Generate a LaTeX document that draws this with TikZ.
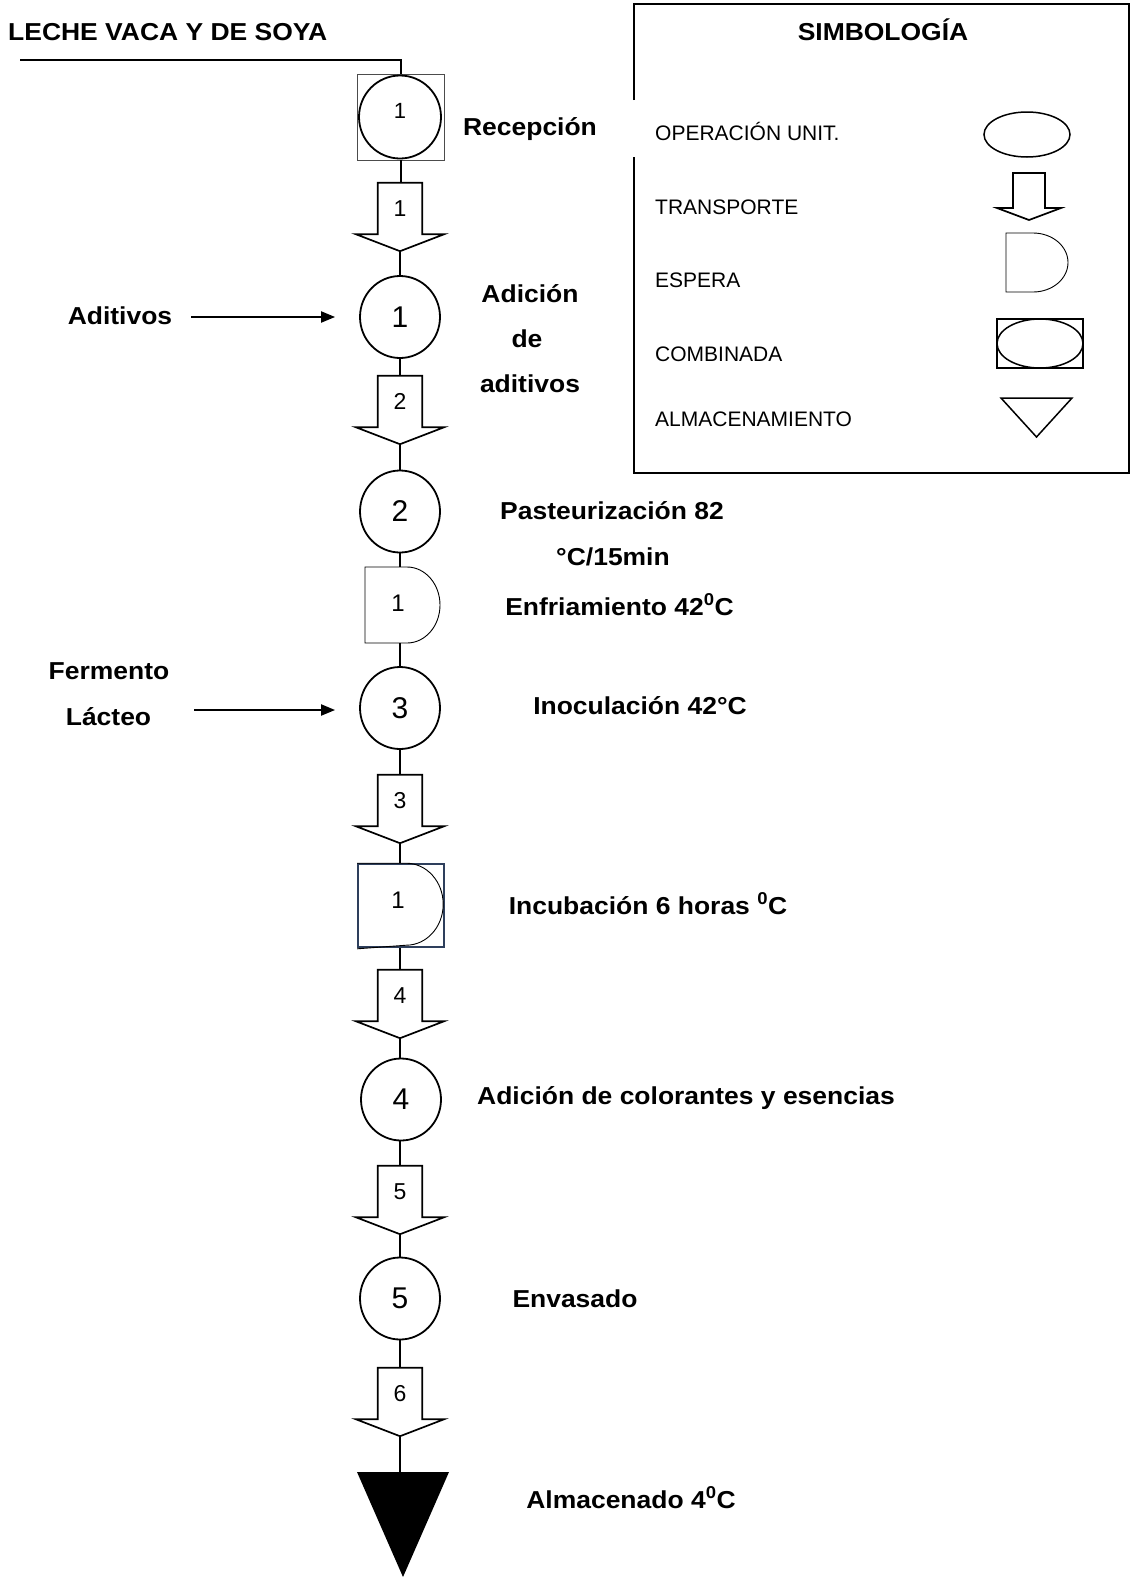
\documentclass[tikz,border=0pt]{standalone}
\usepackage{fontspec}
\setmainfont{Liberation Sans}
\newfontfamily\lblfont{Liberation Sans}[FakeStretch=1.08]
\usetikzlibrary{shapes.geometric,arrows.meta,calc}
\definecolor{boxblue}{HTML}{2E3F5C}
\newcommand\tarrow[3]{%
  \draw[tshape] (#1.south west) -- (#1.north west) -- (#1.north east) -- (#1.south east)
    -- ++(#2,0) -- ($(#1.south)+(0,#3)$) coordinate (#1tip) -- ($(#1.south west)+(-#2,0)$) -- cycle;}
\begin{document}
\begin{tikzpicture}[x=1pt,y=-1pt,
  flow/.style={line width=2pt},
  opnode/.style={ellipse, draw, line width=1.8pt, minimum width=80pt, minimum height=82pt, inner sep=0pt, font=\fontsize{30}{33}\selectfont},
  shaft/.style={minimum width=44pt, minimum height=51pt, inner sep=0pt, font=\fontsize{23}{26}\selectfont},
  tshape/.style={line width=1.7pt, line join=miter},
  lbl/.style={font=\lblfont\bfseries\fontsize{24.5}{29}\selectfont, inner sep=0pt, anchor=base},
  leg/.style={font=\fontsize{21}{25}\selectfont, inner sep=0pt, anchor=base west},
  num/.style={font=\fontsize{23}{26}\selectfont, inner sep=0pt},
  feed/.style={line width=2pt, -{Triangle[length=14pt,width=11pt]}},
  dshape/.style={line width=0.9pt},
  blank/.style={inner sep=0pt, outer sep=0pt}
]
\useasboundingbox (0,0) rectangle (1131,1577);

% ---------- legend ----------
\draw[line width=2pt] (634,100) -- (634,4) -- (1129,4) -- (1129,473) -- (634,473) -- (634,157);
\node[lbl] (legtitle) at (883,40) {SIMBOLOGÍA};
\node[leg] (lg1) at (655,140) {OPERACIÓN UNIT.};
\node[leg] (lg2) at (655,214) {TRANSPORTE};
\node[leg] (lg3) at (655,287) {ESPERA};
\node[leg] (lg4) at (655,361) {COMBINADA};
\node[leg] (lg5) at (655,426) {ALMACENAMIENTO};
\node[ellipse, draw, line width=1.5pt, minimum width=86pt, minimum height=45pt, inner sep=0pt] (lgop) at (1027,134.5) {};
\node[blank, minimum width=32pt, minimum height=35pt] (lgtr) at (1029,190.5) {};
\tarrow{lgtr}{16}{12}
\node[blank, minimum width=34pt, minimum height=59pt] (lgd) at (1023,262.5) {};
\draw[dshape] (lgd.north west) -- ++(27,0) arc[start angle=-90, end angle=90, x radius=35, y radius=29.5] -- (lgd.south west) -- cycle;
\node[draw, line width=1.5pt, minimum width=86pt, minimum height=49pt, inner sep=0pt] (lgcomb) at (1040,343.5) {};
\node[ellipse, draw, line width=1.5pt, minimum width=86pt, minimum height=49pt, inner sep=0pt] (lgcombop) at (1040,343.5) {};
\node[blank, minimum width=71pt, minimum height=39pt] (lgalm) at (1036.5,417.5) {};
\draw[line width=1.5pt] (lgalm.north west) -- (lgalm.north east) -- (lgalm.south) -- cycle;

% ---------- top ----------
\node[lbl, anchor=base west] (milk) at (8,40) {LECHE VACA Y DE SOYA};
\coordinate (src) at (20,60);
\node[draw=black!70, line width=0.8pt, minimum width=87pt, minimum height=86pt, inner sep=0pt] (rec) at (400.5,117) {};
\node[opnode, minimum width=82pt, minimum height=83pt] (recop) at (400,117) {};
\node[num, font=\fontsize{22}{25}\selectfont] (recnum) at (400,111) {1};
\draw[flow] (src) -| (rec.north);
\node[lbl] (recl) at (530,135) {Recepción};

% transport 1
\node[shaft] (t1) at (400,208.5) {1};
\tarrow{t1}{22}{17}
\draw[flow] (rec.south) -- (rec.south |- t1.north);

% operation 1
\node[opnode] (c1) at (400,317) {1};
\draw[flow] (t1tip) -- (t1tip |- c1.north);
\node[lbl] (c1a) at (530,302) {Adición};
\node[lbl] (c1b) at (527,347) {de};
\node[lbl] (c1c) at (530,392) {aditivos};
\node[lbl] (adit) at (120,324) {Aditivos};
\draw[feed] (adit.east |- c1.west) ++(19,0) -- ([xshift=-24pt]c1.west);

% transport 2
\node[shaft] (t2) at (400,401.5) {2};
\tarrow{t2}{22}{17}
\draw[flow] (c1.south) -- (c1.south |- t2.north);

% operation 2
\node[opnode] (c2) at (400,511.5) {2};
\draw[flow] (t2tip) -- (t2tip |- c2.north);
\node[lbl] (c2a) at (612,519) {Pasteurización 82};
\node[lbl] (c2b) at (613,565) {°C/15min};

% delay 1
\node[blank, minimum width=70pt, minimum height=76pt] (d1) at (400,605) {};
\draw[dshape] (d1.north west) -- ++(42,0) arc[start angle=-90, end angle=90, x radius=33, y radius=38] -- (d1.south west) -- cycle;
\node[num, font=\fontsize{24}{27}\selectfont] (d1n) at (398,603) {1};
\draw[flow] (c2.south) -- (c2.south |- d1.north);
\node[lbl] (d1l) at (619.5,615) {Enfriamiento 42\textsuperscript{0}C};

% operation 3
\node[opnode] (c3) at (400,708) {3};
\draw[flow] (d1.south) -- (d1.south |- c3.north);
\node[lbl] (c3l) at (640,714) {Inoculación 42°C};
\node[lbl] (ferm1) at (109,679) {Fermento};
\node[lbl] (ferm2) at (108.5,725) {Lácteo};
\draw[feed] (ferm2.east |- c3.west) ++(43,2) -- ([xshift=-24pt,yshift=-2pt]c3.west);

% transport 3
\node[shaft] (t3) at (400,800.5) {3};
\tarrow{t3}{22}{17}
\draw[flow] (c3.south) -- (c3.south |- t3.north);

% incubation (combined box + delay)
\node[draw=boxblue, line width=1.6pt, minimum width=86pt, minimum height=83pt, inner sep=0pt] (inc) at (401,905.5) {};
\draw[dshape] (inc.north west) -- ++(49,0) arc[start angle=-90, end angle=90, x radius=37, y radius=41] -- ([yshift=-1pt]inc.south west);
\node[num, font=\fontsize{24}{27}\selectfont] (incn) at (398,900) {1};
\draw[flow] (t3tip) -- (t3tip |- inc.north);
\node[lbl] (incl) at (648,914) {Incubación 6 horas \textsuperscript{0}C};

% transport 4
\node[shaft] (t4) at (400,995.5) {4};
\tarrow{t4}{22}{17}
\draw[flow] (inc.south -| t4.north) -- (t4.north);

% operation 4
\node[opnode] (c4) at (401,1099.5) {4};
\draw[flow] (t4tip) -- (t4tip |- c4.north);
\node[lbl] (c4l) at (686,1104) {Adición de colorantes y esencias};

% transport 5
\node[shaft] (t5) at (400,1191.5) {5};
\tarrow{t5}{22}{17}
\draw[flow] (c4.south) -- (c4.south -| t5.north) -- (t5.north);

% operation 5
\node[opnode] (c5) at (400,1298.5) {5};
\draw[flow] (t5tip) -- (t5tip |- c5.north);
\node[lbl] (c5l) at (575,1307) {Envasado};

% transport 6
\node[shaft] (t6) at (400,1393.5) {6};
\tarrow{t6}{22}{17}
\draw[flow] (c5.south) -- (c5.south |- t6.north);

% storage
\node[blank, minimum width=92pt, minimum height=105pt] (alm) at (403,1524.5) {};
\fill (alm.north west) -- (alm.north east) -- (alm.south) -- cycle;
\draw[flow] (t6tip) -- (t6tip |- alm.north);
\node[lbl] (alml) at (631,1508) {Almacenado 4\textsuperscript{0}C};
\end{tikzpicture}
\end{document}
